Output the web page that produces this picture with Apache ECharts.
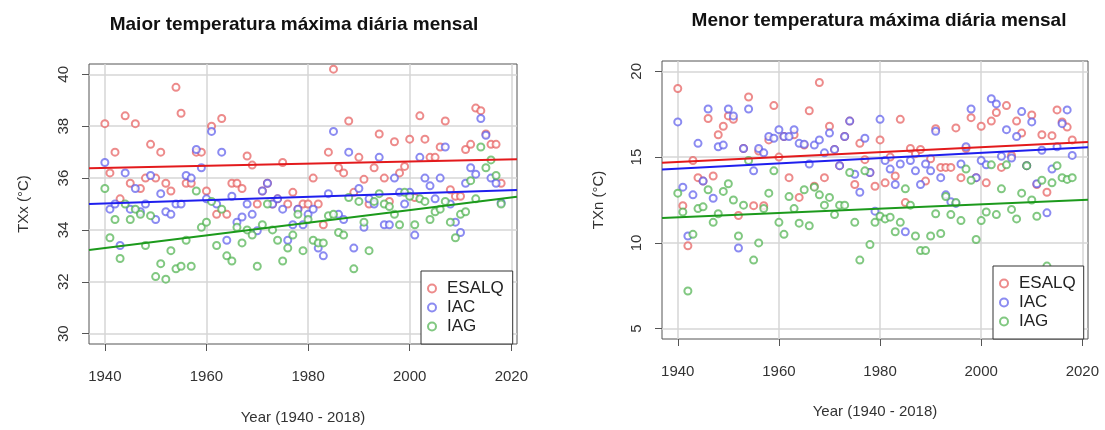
<!DOCTYPE html>
<html><head><meta charset="utf-8">
<script src="https://cdn.jsdelivr.net/npm/echarts@6/dist/echarts.min.js"></script>
<style>html,body{margin:0;padding:0;background:#fff}#c{width:1105px;height:430px}</style>
</head><body><div id="c"></div>
<script>
const years = [1940,1941,1942,1943,1944,1945,1946,1947,1948,1949,
  1950,1951,1952,1953,1954,1955,1956,1957,1958,1959,
  1960,1961,1962,1963,1964,1965,1966,1967,1968,1969,
  1970,1971,1972,1973,1974,1975,1976,1977,1978,1979,
  1980,1981,1982,1983,1984,1985,1986,1987,1988,1989,
  1990,1991,1992,1993,1994,1995,1996,1997,1998,1999,
  2000,2001,2002,2003,2004,2005,2006,2007,2008,2009,
  2010,2011,2012,2013,2014,2015,2016,2017,2018];
const stations = ['ESALQ','IAC','IAG'];

// Maior temperatura máxima diária mensal (TXx, °C)
const txxESALQ = [38.1,36.2,37.0,35.2,38.4,35.8,38.1,35.6,36.0,37.3,
  36.0,37.0,35.8,35.5,39.5,38.5,35.8,35.8,37.0,37.0,
  35.5,38.0,34.6,38.3,34.6,35.8,35.8,35.6,36.85,36.5,
  35.0,35.5,35.8,35.0,35.2,36.6,35.0,35.45,34.8,35.0,
  35.0,36.0,35.0,34.2,37.0,40.2,36.4,36.2,38.2,35.45,
  36.8,35.95,35.0,36.4,37.7,36.0,35.1,37.4,36.2,36.45,
  37.5,35.25,38.4,37.5,36.8,36.8,37.2,38.2,35.55,35.3,
  35.3,37.1,37.3,38.7,38.6,37.7,37.3,37.3,35.8];
const txxIAC = [36.6,34.8,35.0,33.4,36.2,34.8,35.6,34.7,35.0,36.1,
  34.4,35.4,34.7,34.6,35.0,35.0,36.1,36.0,37.1,36.4,
  35.2,37.8,35.0,37.0,33.6,35.3,34.3,34.5,35.0,34.6,
  33.97,35.5,35.8,35.0,35.2,34.8,33.6,34.2,34.8,34.2,
  34.6,34.8,33.3,33.0,35.4,37.8,34.6,34.4,37.0,33.3,
  35.6,34.1,35.2,35.0,36.8,34.2,34.2,36.0,35.45,35.0,
  35.45,33.8,36.8,36.0,35.7,35.2,36.0,37.2,35.0,34.3,
  33.9,35.8,36.4,36.15,38.3,37.65,36.0,35.8,35.05];
const txxIAG = [35.6,33.7,34.4,32.9,35.0,34.4,34.8,34.6,33.4,34.55,
  32.2,32.7,32.1,33.2,32.5,32.6,33.6,32.6,35.5,34.1,
  34.3,35.1,33.4,34.8,33.0,32.8,34.1,33.5,34.0,33.8,
  32.6,34.2,35.0,34.0,33.6,32.8,33.3,33.8,34.6,33.2,
  34.4,33.6,33.5,33.5,34.55,34.6,33.9,33.8,35.25,32.5,
  35.1,34.3,33.2,35.1,35.4,35.0,34.9,34.6,34.2,35.45,
  35.3,34.2,35.2,35.1,34.4,34.7,34.8,35.1,34.3,33.7,
  34.6,34.7,35.9,35.2,37.2,36.4,36.7,36.1,35.0];

// Menor temperatura máxima diária mensal (TXn, °C)
const txnESALQ = [19.0,12.17,9.83,14.8,13.8,13.6,17.25,13.9,16.3,16.8,
  17.4,17.2,11.6,15.5,18.5,12.17,15.35,12.17,16.0,18.0,
  15.0,16.2,13.8,16.3,12.65,15.7,17.7,13.3,19.35,13.8,
  16.8,15.45,14.5,16.2,17.1,13.4,15.8,14.85,14.1,13.3,
  16.0,13.5,15.0,13.9,17.2,12.35,15.5,15.2,15.45,13.6,
  14.9,16.65,14.4,14.4,14.4,16.7,13.8,15.5,17.3,13.8,
  16.8,13.5,17.1,17.6,14.4,18.0,15.1,17.1,16.4,14.5,
  17.45,13.4,16.3,12.95,16.25,17.75,17.05,16.75,16.0];
const txnIAC = [17.05,13.25,10.4,12.8,15.8,13.6,17.8,12.6,15.6,15.7,
  17.8,17.4,9.7,15.5,17.8,14.2,15.5,15.25,16.2,16.1,
  16.6,16.2,16.2,16.6,15.8,15.75,14.6,15.7,16.0,15.25,
  16.4,15.45,14.5,16.2,17.1,14.0,12.95,16.1,14.1,11.85,
  17.2,14.8,14.3,13.4,14.6,10.65,14.8,14.2,13.4,14.6,
  14.2,16.5,13.8,12.8,12.4,12.3,14.6,15.6,17.8,13.8,
  14.8,14.55,18.4,18.1,15.05,16.6,14.95,16.2,17.65,14.5,
  17.05,13.45,15.4,11.75,14.3,15.6,16.95,17.75,15.1];
const txnIAG = [12.9,11.8,7.2,10.5,12.0,12.1,13.1,11.2,11.7,13.0,
  13.45,12.5,10.4,12.2,14.8,9.0,10.0,12.0,12.9,14.2,
  11.2,10.5,12.7,12.0,11.15,13.1,11.0,13.25,12.8,12.2,
  12.65,11.65,12.2,12.2,14.1,11.2,9.0,14.2,9.9,11.2,
  11.55,11.4,11.5,10.65,11.2,13.15,12.2,10.4,9.55,9.55,
  10.4,11.7,10.55,12.7,11.65,12.35,11.3,14.3,13.65,10.2,
  11.3,11.8,14.55,11.65,13.15,14.55,11.95,11.4,12.9,14.5,
  12.5,11.55,13.65,8.65,13.5,14.5,13.8,13.7,13.8];

// Fitted trend lines, values read at the left and right plot edges
const xRange = [1936.88, 2021.12];
const txxTrendStart = [36.38, 35.0, 33.23];
const txxTrendEnd = [36.73, 35.54, 35.28];
const txnTrendStart = [14.67, 14.28, 11.45];
const txnTrendEnd = [15.88, 15.58, 12.52];

// Axes
const xTicks = [1940, 1960, 1980, 2000, 2020];
const txxTicks = [30, 32, 34, 36, 38, 40];
const txnTicks = [5, 10, 15, 20];
const txxRange = [29.6, 40.4];
const txnRange = [4.4, 20.6];

const pointColors = ['rgba(228,85,85,0.85)', 'rgba(85,85,235,0.85)', 'rgba(70,175,70,0.85)'];
const lineColors = ['#e31a1c', '#1f1fee', '#1c9a1c'];
const FONT = 'Liberation Sans, Arial, sans-serif';

const chart = echarts.init(document.getElementById('c'), null, {renderer: 'canvas'});

const grids = [
  {left: 89, top: 64, width: 428, height: 281},
  {left: 662, top: 61, width: 426, height: 278}
];
const panelData = [[txxESALQ, txxIAC, txxIAG], [txnESALQ, txnIAC, txnIAG]];
const trendStarts = [txxTrendStart, txnTrendStart];
const trendEnds = [txxTrendEnd, txnTrendEnd];
const yTicks = [txxTicks, txnTicks];
const yRanges = [txxRange, txnRange];
const yNames = ['TXx (°C)', 'TXn (°C)'];

function xAxisCfg(i) {
  return {
    type: 'value', gridIndex: i, min: xRange[0], max: xRange[1],
    name: 'Year (1940 - 2018)', nameLocation: 'middle', nameGap: i === 0 ? 66 : 65,
    nameTextStyle: {fontFamily: FONT, fontSize: 15, color: '#333'},
    axisLine: {show: false},
    axisTick: {show: true, length: 7, customValues: xTicks, lineStyle: {color: '#555', width: 1}},
    axisLabel: {customValues: xTicks, formatter: v => String(v), fontFamily: FONT, fontSize: 15, color: '#333', margin: 25},
    splitLine: {show: true, lineStyle: {color: '#d6d6d6', width: 1.5}}
  };
}
function yAxisCfg(i) {
  return {
    type: 'value', gridIndex: i, min: yRanges[i][0], max: yRanges[i][1],
    name: yNames[i], nameLocation: 'middle', nameGap: i === 0 ? 58 : 56, nameRotate: 90,
    nameTextStyle: {fontFamily: FONT, fontSize: 15, color: '#333'},
    axisLine: {show: false},
    axisTick: {show: true, length: 7, customValues: yTicks[i], lineStyle: {color: '#555', width: 1}},
    axisLabel: {customValues: yTicks[i], formatter: v => String(v), rotate: 90, fontFamily: FONT, fontSize: 15, color: '#333', margin: 18},
    splitLine: {show: true, lineStyle: {color: '#d6d6d6', width: 1.5}}
  };
}

const series = [];
for (let p = 0; p < 2; p++) {
  for (let s = 0; s < 3; s++) {
    series.push({
      type: 'scatter', name: stations[s], xAxisIndex: p, yAxisIndex: p,
      symbol: 'emptyCircle', symbolSize: 7,
      itemStyle: {color: pointColors[s], borderWidth: 1.3},
      data: years.map((y, k) => [y, panelData[p][s][k]]),
      silent: true, z: 2
    });
  }
  for (let s = 0; s < 3; s++) {
    series.push({
      type: 'line', name: stations[s] + ' trend', xAxisIndex: p, yAxisIndex: p,
      showSymbol: false, symbol: 'none',
      lineStyle: {color: lineColors[s], width: 2},
      data: [[xRange[0], trendStarts[p][s]], [xRange[1], trendEnds[p][s]]],
      silent: true, z: 3
    });
  }
}

function legendCfg(left, top, rightPad) {
  return {
    data: stations, orient: 'vertical', left: left, top: top,
    itemWidth: 20, itemHeight: 8, itemGap: 2,
    padding: [9, rightPad, 9, 6],
    backgroundColor: '#fff', borderColor: '#333', borderWidth: 1,
    textStyle: {fontFamily: FONT, fontSize: 17, color: '#222'},
    selectedMode: false
  };
}

chart.setOption({
  animation: false,
  backgroundColor: '#fff',
  title: [
    {text: 'Maior temperatura máxima diária mensal', left: 289, top: 10, textAlign: 'center',
     textStyle: {fontFamily: FONT, fontWeight: 'bold', fontSize: 19, color: '#111'}},
    {text: 'Menor temperatura máxima diária mensal', left: 874, top: 6, textAlign: 'center',
     textStyle: {fontFamily: FONT, fontWeight: 'bold', fontSize: 19, color: '#111'}}
  ],
  grid: grids.map(g => Object.assign({show: true, borderColor: '#555', borderWidth: 1, backgroundColor: 'transparent'}, g)),
  xAxis: [xAxisCfg(0), xAxisCfg(1)],
  yAxis: [yAxisCfg(0), yAxisCfg(1)],
  legend: [legendCfg(421, 271, 9), legendCfg(993, 266, 8)],
  series: series
});
</script>
</body></html>
